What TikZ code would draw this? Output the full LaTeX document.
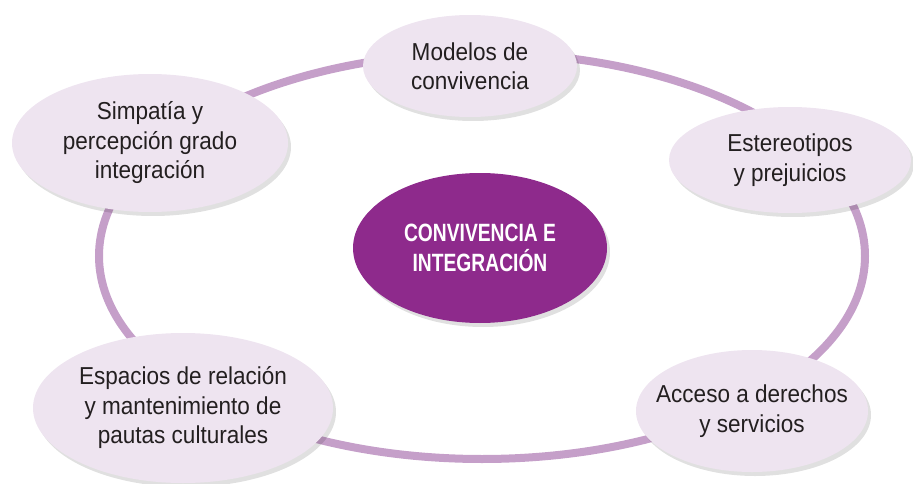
\documentclass[tikz,border=0pt]{standalone}
\usepackage{fontspec}
\usetikzlibrary{shapes.geometric,shadows}
\newfontfamily\satfont[FakeStretch=0.92]{Liberation Sans}
\newfontfamily\hubfont[FakeStretch=0.77]{Liberation Sans Bold}
\definecolor{hubpurple}{HTML}{8E2A8C}
\definecolor{ringpurple}{HTML}{C59FC9}
\definecolor{satfill}{HTML}{EEE4F0}
\definecolor{txtgray}{HTML}{231F20}
\tikzset{
  sat/.style={ellipse, fill=satfill, inner sep=0pt, align=center, text=txtgray,
    font=\satfont\fontsize{24.5}{29.5}\selectfont,
    drop shadow={shadow xshift=3pt, shadow yshift=-4pt, opacity=0.12, fill=black}},
  hub/.style={ellipse, fill=hubpurple, inner sep=0pt, align=center, text=white,
    font=\hubfont\fontsize{25}{30}\selectfont,
    drop shadow={shadow xshift=3pt, shadow yshift=-4pt, opacity=0.12, fill=black}},
  ring/.style={draw=ringpurple, line width=8pt}
}
\begin{document}
\begin{tikzpicture}[x=1pt, y=-1pt]
\useasboundingbox (0,0) rectangle (913,484);
\draw[ring] (482,256) ellipse [x radius=383, y radius=203];
\node[hub, minimum width=254pt, minimum height=150pt] (hub) at (480,248) {CONVIVENCIA E\\INTEGRACIÓN};
\node[sat, minimum width=214pt, minimum height=102pt] (modelos) at (470,66) {Modelos de\\convivencia};
\node[sat, minimum width=242pt, minimum height=106pt] (estereo) at (790,160) {Estereotipos\\y prejuicios};
\node[sat, minimum width=276pt, minimum height=138pt] (simpatia) at (150,143) {Simpatía y\\percepción grado\\integración};
\node[sat, inner xsep=-8pt, minimum width=300pt, minimum height=150pt] (espacios) at (183,408) {Espacios de relación\\y mantenimiento de\\pautas culturales};
\node[sat, inner xsep=-17pt, minimum width=232pt, minimum height=122pt] (acceso) at (752,411) {Acceso a derechos\\y servicios};
\end{tikzpicture}
\end{document}
